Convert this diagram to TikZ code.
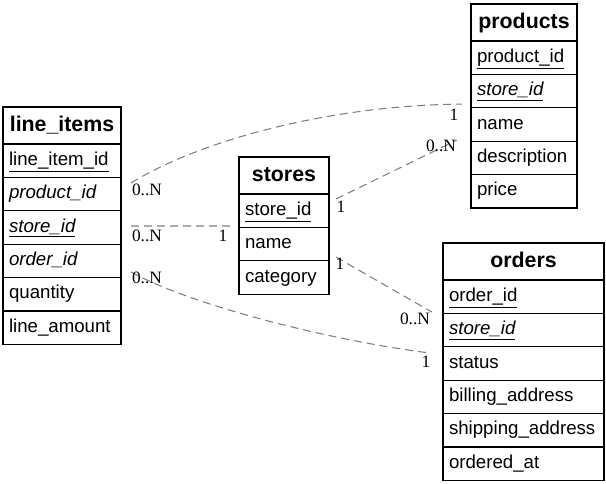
\documentclass[tikz,border=0pt]{standalone}
\usepackage{fontspec}
\setmainfont{Liberation Sans}
\newfontfamily\lblfont{Liberation Serif}
\usetikzlibrary{calc}
\begin{document}
\begin{tikzpicture}[x=0.75pt,y=-0.75pt,
  cell/.style={draw=black, line width=0.85pt, outer sep=0pt, inner xsep=4.5pt, inner ysep=0pt},
  hdr/.style={cell, minimum height=27.75pt, align=center, font=\fontsize{16}{18}\selectfont\bfseries, text height=11.5pt, text depth=3pt},
  fld/.style={cell, minimum height=25.05pt, align=left, font=\fontsize{14}{16}\selectfont, text height=10pt, text depth=3pt, anchor=north},
  tli/.style={minimum width=88.5pt, text width=79.5pt},
  tpr/.style={minimum width=79.5pt, text width=70.5pt},
  tst/.style={minimum width=67.5pt, text width=58.5pt},
  tor/.style={minimum width=120.75pt, text width=111.75pt},
  rel/.style={draw=black!50, line width=0.8pt, dash pattern=on 6pt off 3.75pt},
  lbl/.style={inner sep=0pt, font=\lblfont\fontsize{13}{15}\selectfont}
]
\useasboundingbox (0,0) rectangle (606,483);

% line_items
\node[hdr,tli,anchor=north west] (li) at (3,107) {line\_items};
\node[fld,tli] (li-id) at (li.south) {\underline{line\_item\_id}};
\node[fld,tli] (li-pid) at (li-id.south) {\textit{product\_id}};
\node[fld,tli] (li-sid) at (li-pid.south) {\textit{\underline{store\_id}}};
\node[fld,tli] (li-oid) at (li-sid.south) {\textit{order\_id}};
\node[fld,tli] (li-qty) at (li-oid.south) {quantity};
\node[fld,tli] (li-amt) at (li-qty.south) {line\_amount};

% products
\node[hdr,tpr,anchor=north west] (pr) at (471,4) {products};
\node[fld,tpr] (pr-id) at (pr.south) {\underline{product\_id}};
\node[fld,tpr] (pr-sid) at (pr-id.south) {\textit{\underline{store\_id}}};
\node[fld,tpr] (pr-name) at (pr-sid.south) {name};
\node[fld,tpr] (pr-desc) at (pr-name.south) {description};
\node[fld,tpr] (pr-price) at (pr-desc.south) {price};

% stores
\node[hdr,tst,anchor=north west] (st) at (239,157) {stores};
\node[fld,tst] (st-sid) at (st.south) {\underline{store\_id}};
\node[fld,tst] (st-name) at (st-sid.south) {name};
\node[fld,tst] (st-cat) at (st-name.south) {category};

% orders
\node[hdr,tor,anchor=north west] (or) at (443,243) {orders};
\node[fld,tor] (or-id) at (or.south) {\underline{order\_id}};
\node[fld,tor] (or-sid) at (or-id.south) {\textit{\underline{store\_id}}};
\node[fld,tor] (or-status) at (or-sid.south) {status};
\node[fld,tor] (or-bill) at (or-status.south) {billing\_address};
\node[fld,tor] (or-ship) at (or-bill.south) {shipping\_address};
\node[fld,tor] (or-at) at (or-ship.south) {ordered\_at};

% relations
\draw[rel] ($(li-pid.north east)+(10,5.6)$) .. controls ($(li-pid.north east)+(79,-37)$) and ($(pr-sid.west)+(-141,14)$) .. ($(pr-sid.west)+(-9,13)$);
\draw[rel] ($(li-sid.east)+(10,-1.5)$) -- ($(st-sid.west)+(-8,15.3)$);
\draw[rel] ($(li-oid.east)+(10,11)$) .. controls ($(li-oid.east)+(69,44)$) and ($(or-status.west)+(-113,-23)$) .. ($(or-status.west)+(-13,-10.5)$);
\draw[rel] ($(st-sid.east)+(7,-11.7)$) -- ($(pr-name.west)+(-14,15.5)$);
\draw[rel] ($(st-name.east)+(7,13)$) -- ($(or-sid.west)+(-11,-18)$);

% labels
\node[lbl] (l1a) at (147,190) {0..N};
\node[lbl] (l1b) at (454,115) {1};
\node[lbl] (l2a) at (147,236) {0..N};
\node[lbl] (l2b) at (223,236) {1};
\node[lbl] (l3a) at (147,278) {0..N};
\node[lbl] (l3b) at (426,362) {1};
\node[lbl] (l4a) at (341,207) {1};
\node[lbl] (l4b) at (441,146) {0..N};
\node[lbl] (l5a) at (340,264) {1};
\node[lbl] (l5b) at (415,319) {0..N};
\end{tikzpicture}
\end{document}
